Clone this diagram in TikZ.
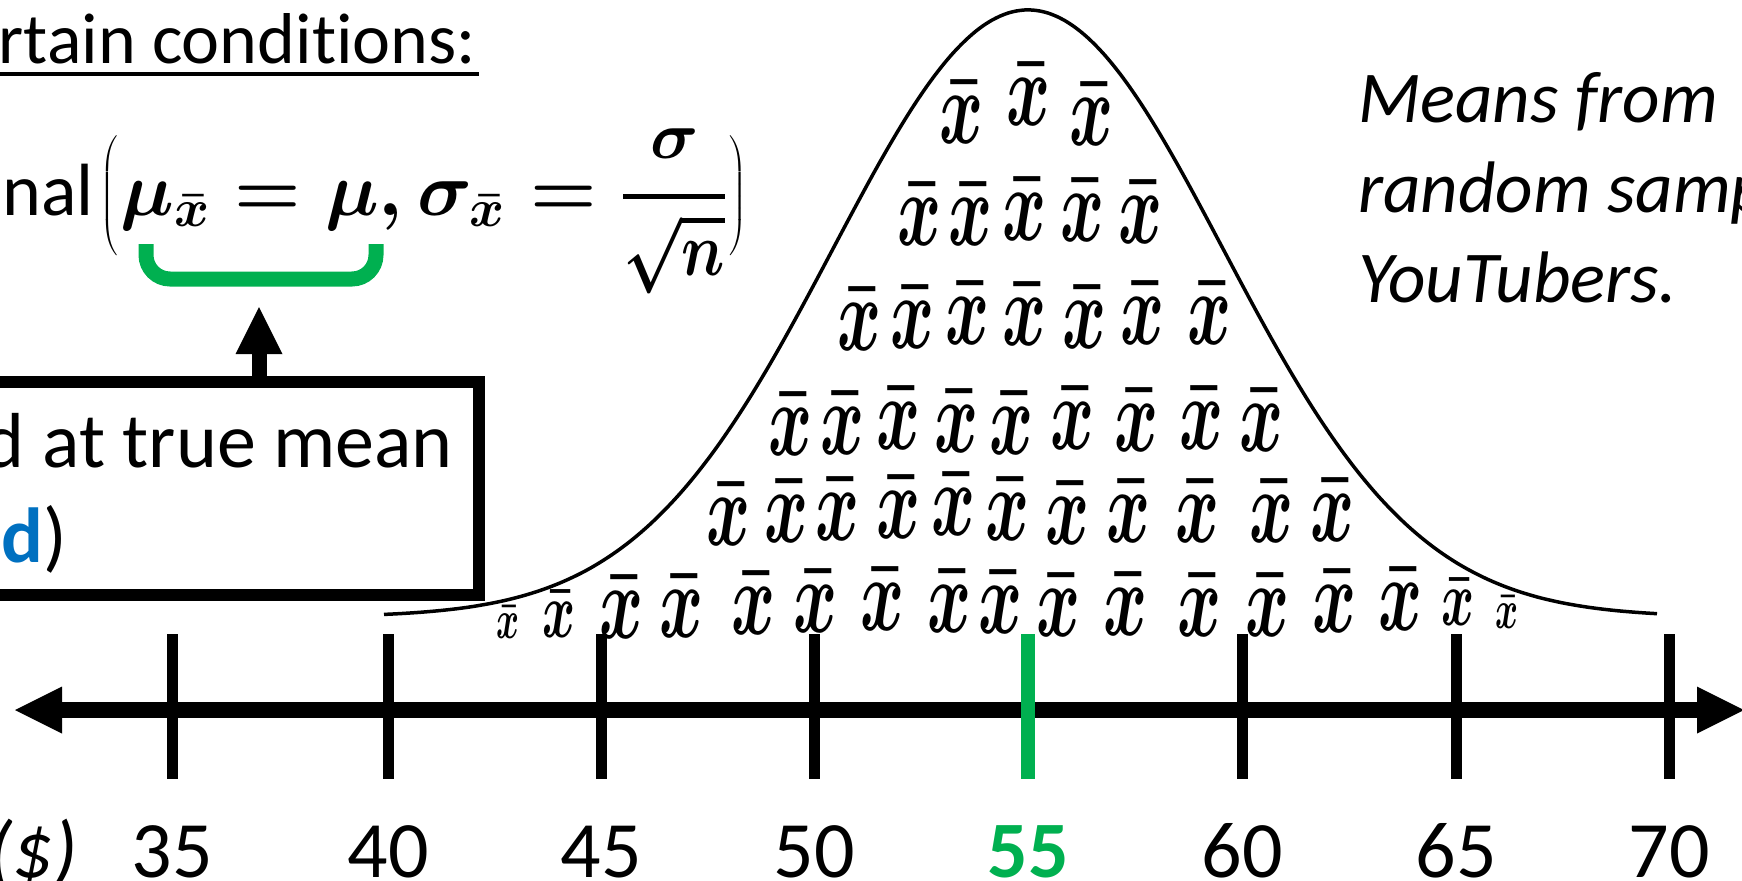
\RequirePackage{fix-cm}
\documentclass[tikz,border=0pt]{standalone}
\usepackage[no-math]{fontspec}
\setmainfont{Carlito}[Ligatures={CommonOff,RequiredOff,ContextualOff}]
\usepackage{graphicx}
\usetikzlibrary{arrows.meta}
\definecolor{ogreen}{HTML}{00B050}
\definecolor{oblue}{HTML}{0070C0}
\newcommand\xbm{\scalebox{0.76}[1.2]{$\bar{x}$}}
\newcommand\bigparl{\mathopen{\left(\vcenter to 1.7em{}\right.}}
\newcommand\bigparr{\mathclose{\left.\vcenter to 1.7em{}\right)}}
\newcommand\fracnum{\hbox{\scalebox{0.88}{$\sigma$}}}
\newcommand\fracden{\hbox{\scalebox{0.8}[1.0]{$\sqrt{n}$}}}
\newcommand\formula{$\displaystyle \bigparl\mu_{\bar{x}}=\mu,\sigma_{\bar{x}}={\fracnum\above 2.5pt\fracden}\bigparr$}
\begin{document}
\begin{tikzpicture}[x=0.5pt,y=-0.5pt,
  txt/.style={inner sep=0pt, outer sep=0pt, font=\fontsize{37}{46}\selectfont},
  num/.style={inner sep=0pt, anchor=base, font=\fontsize{40}{48}\selectfont},
  xb/.style={inner sep=0pt, anchor=base, font=\fontsize{44}{50}\selectfont\mathversion{bold}},
  xbmed/.style={xb, font=\fontsize{33}{40}\selectfont\mathversion{bold}},
  xbsmall/.style={xb, font=\fontsize{23}{28}\selectfont\mathversion{bold}},
  axtick/.style={line width=5.5pt}]
\useasboundingbox (0,0) rectangle (1742,880);
\clip (0,0) rectangle (1742,880);

% title
\node[txt, font=\fontsize{36}{44}\selectfont, anchor=base east] (title) at (476,63) {rtain conditions:};
\draw[line width=2pt] (0,74) -- (479,74);

% formula
\node[txt, anchor=base east] (nal) at (94,215) {nal};
\node[inner sep=0pt, anchor=base west, font=\fontsize{38}{46}\selectfont\mathversion{bold}] (formula) at (100,215) {\formula};

% green bracket
\draw[ogreen, line width=7.5pt, rounded corners=12pt] (146,244) -- (146,279) -- (376,279) -- (376,244);
\coordinate (tip) at (259,307);

% box
\node[draw, line width=6pt, inner sep=0pt, outer sep=0pt, minimum width=254.5pt, minimum height=106.5pt, anchor=north east] (box) at (479,382) {};
\node[txt, font=\fontsize{39}{48}\selectfont, anchor=base east] (t1) at (453,467) {d at true mean};
\node[txt, font=\fontsize{39}{48}\selectfont, anchor=base east] (t2) at (67,562) {\textcolor{oblue}{\bfseries ed})};
\draw[line width=7.5pt, -{Triangle[length=23.5pt,width=23.5pt,line width=0pt]}] (box.north -| tip) -- (tip);

% right text
\node[txt, font=\fontsize{36.5}{45}\selectfont\itshape, anchor=base west] (m1) at (1358,122) {Means from};
\node[txt, font=\fontsize{36.5}{45}\selectfont\itshape, anchor=base west] (m2) at (1358,212) {random samp};
\node[txt, font=\fontsize{36.5}{45}\selectfont\itshape, anchor=base west] (m3) at (1358,302) {YouTubers.};

% bell curve
\draw[line width=1.75pt] plot[domain=384:1657, samples=160, smooth]
  (\x, {617-607*exp(-0.5*((\x-1028)/195)*((\x-1028)/195))});

% xbar rows
\foreach \px/\py [count=\i] in {962/143, 1029/125, 1092/145}
  \node[xb] (ra-\i) at (\px,\py) {\xbm};
\foreach \px/\py [count=\i] in {920/245, 971/245, 1025/240, 1083/241, 1141/243}
  \node[xb] (rb-\i) at (\px,\py) {\xbm};
\foreach \px/\py [count=\i] in {860/350, 913/348, 968/344, 1025/345, 1085/348, 1143/344, 1210/344}
  \node[xb] (rc-\i) at (\px,\py) {\xbm};
\foreach \px/\py [count=\i] in {791/455, 843/454, 899/449, 957/452, 1012/454, 1073/449, 1137/451, 1202/449, 1262/451}
  \node[xb] (rd-\i) at (\px,\py) {\xbm};
\foreach \px/\py [count=\i] in {729/545, 787/542, 838/540, 899/538, 954/535, 1008/540, 1068/544, 1129/542, 1198/542, 1272/542, 1333/541}
  \node[xb] (re-\i) at (\px,\py) {\xbm};
\foreach \px/\py [count=\i] in {622/638, 682/637, 754/634, 816/632, 883/630, 950/632, 1001/633, 1059/636, 1126/635, 1200/636, 1268/636, 1335/632, 1401/630}
  \node[xb] (rf-\i) at (\px,\py) {\xbm};
\node[xbmed] (rf-m1) at (559,637) {\xbm};
\node[xbmed] (rf-m2) at (1458,625) {\xbm};
\node[xbsmall] (rf-s1) at (508,638) {\xbm};
\node[xbsmall] (rf-s2) at (1507,628) {\xbm};

% axis
\coordinate (axL) at (15,710);
\coordinate (axR) at (1744,710);
\draw[line width=8pt, {Triangle[length=23.5pt,width=23.5pt,line width=0pt]}-{Triangle[length=23.5pt,width=23.5pt,line width=0pt]}] (axL) -- (axR);
\foreach \v/\px in {35/172, 40/388, 45/601, 50/814, 60/1242, 65/1456, 70/1669} {
  \draw[axtick] (\px,634) -- (\px,779);
  \node[num] (lab\v) at (\px,877) {\v};
}
\draw[axtick, ogreen, line width=7pt] (1028,634) -- (1028,779);
\node[num, text=ogreen] (lab55) at (1028,877) {\bfseries 55};
\node[num, anchor=base east, font=\fontsize{40}{48}\selectfont\itshape] (unit) at (78,877) {(\$)};
\end{tikzpicture}
\end{document}
